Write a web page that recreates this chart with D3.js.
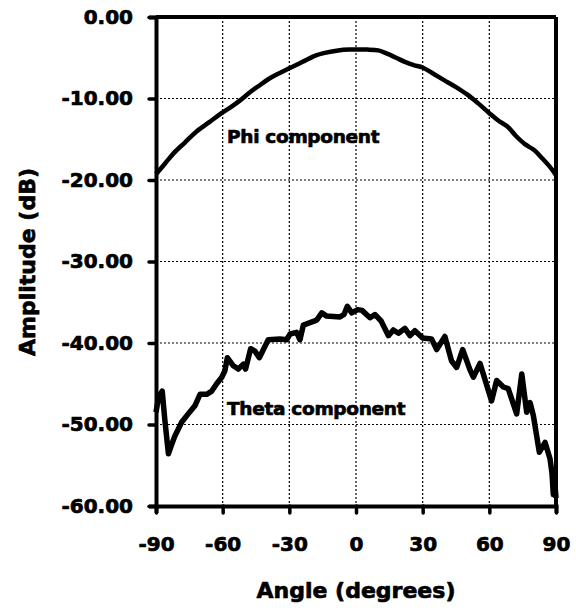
<!DOCTYPE html>
<html><head><meta charset="utf-8">
<script src="https://cdn.jsdelivr.net/npm/d3@7"></script>
<style>body{margin:0;background:#fff}svg{display:block}</style>
</head><body>
<svg id="c" width="576" height="608"></svg>
<script>
const xTicks = [-90,-60,-30,0,30,60,90];
const xTickLabels = ["-90","-60","-30","0","30","60","90"];
const yTicks = [0,-10,-20,-30,-40,-50,-60];
const yTickLabels = ["0.00","-10.00","-20.00","-30.00","-40.00","-50.00","-60.00"];
const phiAngle = [-90,-86,-82,-77,-72,-66,-60,-56,-52,-48,-44,-38,-30,-24,-18,-14,-8,-3,0,5,10,14,18,22,26,30,35,40,45,50,55,60,64,68,72,76,80,84,87,90];
const phiDb = [-19.3,-18.0,-16.7,-15.4,-14.1,-12.9,-11.7,-11.0,-10.2,-9.3,-8.5,-7.4,-6.3,-5.5,-4.7,-4.4,-4.1,-4.0,-4.0,-4.0,-4.1,-4.5,-5.0,-5.5,-5.9,-6.2,-7.0,-7.8,-8.6,-9.5,-10.6,-11.8,-12.7,-13.4,-14.6,-15.6,-16.3,-17.4,-18.3,-19.4];
const thetaAngle = [-90,-88.8,-87.2,-86.0,-84.4,-83.4,-81.5,-78.4,-75.5,-72.5,-70.2,-67.2,-64.9,-62.7,-60.4,-59,-57.9,-55.2,-53,-50.7,-49.7,-47.4,-45.5,-43.5,-39.5,-34.2,-31.2,-29.7,-26.7,-25.2,-23.7,-20.7,-17.7,-15.4,-13.2,-7.2,-5.4,-3.9,-1.9,0.8,2.7,6.3,8.5,11.3,14.6,16.8,19.1,22,24.3,26.5,30,34,36.3,40,43,45.3,48,51.3,52.8,55.8,61,63.3,66.3,68.5,72.3,74.6,76.8,78.3,79.8,82.5,85.1,87.3,88.2,88.8,89.4,90];
const thetaDb = [-48.5,-46.6,-45.9,-49.5,-53.6,-52.8,-51.4,-49.7,-48.7,-47.7,-46.3,-46.3,-45.9,-45.0,-44.2,-43.4,-41.8,-42.8,-43.2,-42.6,-43.2,-40.7,-41.0,-41.8,-39.6,-39.5,-39.6,-38.9,-38.7,-39.6,-37.8,-37.5,-37.2,-36.3,-36.7,-36.8,-36.5,-35.5,-36.3,-35.9,-36.0,-36.9,-36.5,-37.3,-39.1,-38.4,-38.8,-38.2,-39.1,-38.5,-39.4,-39.5,-40.8,-39.2,-42.2,-43.0,-40.8,-43.3,-44.2,-42.5,-47.1,-44.6,-45.4,-45.6,-48.7,-43.8,-48.5,-47.3,-48.9,-53.4,-52.2,-54.2,-56.0,-58.6,-57.0,-59.0];

const svg = d3.select("#c");
const x = d3.scaleLinear().domain([-90,90]).range([156,556]);
const y = d3.scaleLinear().domain([-60,0]).range([506,17]);
const font = "'DejaVu Sans', sans-serif";
const heavy = s => s.attr("font-family",font).attr("font-weight","bold").attr("fill","#000")
  .attr("stroke","#000").attr("stroke-width",0.7).attr("stroke-linejoin","round");

// grid
svg.append("g").selectAll("line").data(xTicks.slice(1,-1)).join("line")
  .attr("x1",d=>x(d)).attr("x2",d=>x(d)).attr("y1",y(0)).attr("y2",y(-60))
  .attr("stroke","#000").attr("stroke-width",1.2).attr("stroke-dasharray","2,2");
svg.append("g").selectAll("line").data(yTicks.slice(1,-1)).join("line")
  .attr("y1",d=>y(d)).attr("y2",d=>y(d)).attr("x1",x(-90)).attr("x2",x(90))
  .attr("stroke","#000").attr("stroke-width",1.2).attr("stroke-dasharray","2,2");

// axes
const yAxis = d3.axisLeft(y).tickValues(yTicks).tickFormat((d,i)=>yTickLabels[i]).tickSize(7).tickPadding(16);
const gy = svg.append("g").attr("transform",`translate(${x(-90)},0)`).call(yAxis);
const xAxis = d3.axisBottom(x).tickValues(xTicks).tickFormat((d,i)=>xTickLabels[i]).tickSize(7).tickPadding(24);
const gx = svg.append("g").attr("transform",`translate(0,${y(-60)})`).call(xAxis);
[gx,gy].forEach(g=>{
  g.select(".domain").attr("stroke-width",4).attr("stroke","#000");
  g.selectAll(".tick line").attr("stroke-width",3.5).attr("stroke","#000").attr("stroke-linecap","round");
  g.selectAll("text").call(heavy).attr("font-size",20);
});
// top and right borders
svg.append("line").attr("x1",x(-90)).attr("x2",x(90)).attr("y1",y(0)).attr("y2",y(0)).attr("stroke","#000").attr("stroke-width",4);
svg.append("line").attr("x1",x(90)).attr("x2",x(90)).attr("y1",y(0)).attr("y2",y(-60)).attr("stroke","#000").attr("stroke-width",4);

const line = d3.line().x(d=>x(d[0])).y(d=>y(d[1])).curve(d3.curveCatmullRom.alpha(0.5));
svg.append("path").datum(phiAngle.map((a,i)=>[a,phiDb[i]])).attr("d",line)
  .attr("fill","none").attr("stroke","#000").attr("stroke-width",4.5).attr("stroke-linejoin","round");
svg.append("path").datum(thetaAngle.map((a,i)=>[a,thetaDb[i]])).attr("d",d3.line().x(d=>x(d[0])).y(d=>y(d[1])))
  .attr("fill","none").attr("stroke","#000").attr("stroke-width",5.5).attr("stroke-linejoin","round");

svg.append("text").attr("x",227).attr("y",143).text("Phi component").call(heavy)
  .attr("font-size",18.5).attr("letter-spacing",-0.3);
svg.append("text").attr("x",227).attr("y",415).text("Theta component").call(heavy)
  .attr("font-size",18.5).attr("letter-spacing",-0.3);

svg.append("text").attr("x",356).attr("y",598).attr("text-anchor","middle").text("Angle (degrees)").call(heavy)
  .attr("font-size",22);
svg.append("text").attr("transform","translate(35,262) rotate(-90)").attr("text-anchor","middle").text("Amplitude (dB)").call(heavy)
  .attr("font-size",22);
</script>
</body></html>
